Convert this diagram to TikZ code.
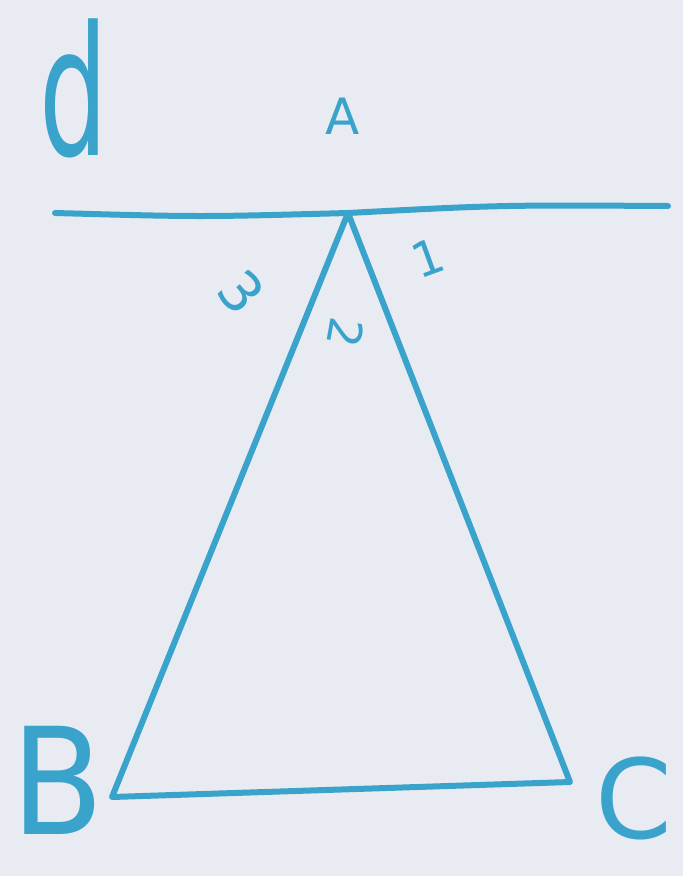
\documentclass[tikz,border=0pt]{standalone}
\usepackage{fontspec}
\setmainfont{DejaVu Sans}
\definecolor{ink}{HTML}{3AA3CC}
\definecolor{paper}{HTML}{E8ECF2}
\begin{document}
\begin{tikzpicture}[x=1pt,y=-1pt,
  pen/.style={draw=ink,line width=6pt,line cap=round,line join=round},
  lbl/.style={text=ink,inner sep=0pt}]
\fill[paper] (0,0) rectangle (683,876);
\useasboundingbox (0,0) rectangle (683,876);
% points
\coordinate (A) at (348,213);
\coordinate (B) at (112,797);
\coordinate (C) at (570,782);
\coordinate (dL) at (55,213);
\coordinate (dR) at (668,206);
% line d
\draw[pen] (dL) .. controls (200,217) .. (A) .. controls (500,205) .. (dR);
% triangle
\draw[pen] (A) -- (B) -- (C) -- cycle;
% labels
\node[lbl,font=\fontsize{180}{180}\selectfont,xscale=0.6] (ld) at (74,88) {d};
\node[lbl,font=\fontsize{135}{135}\selectfont,yscale=1.1] (lb) at (58,780) {B};
\node[lbl,font=\fontsize{50}{50}\selectfont] (la) at (343,116) {A};
\node[lbl,font=\fontsize{110}{110}\selectfont] (lc) at (634,798) {C};
\node[lbl,font=\fontsize{56}{56}\selectfont,rotate=-50] (l3) at (242,292) {3};
\node[lbl,font=\fontsize{46}{46}\selectfont,rotate=-100] (l2) at (346,333) {2};
\node[lbl,font=\fontsize{48}{48}\selectfont,rotate=20] (l1) at (428,258) {1};
\end{tikzpicture}
\end{document}
